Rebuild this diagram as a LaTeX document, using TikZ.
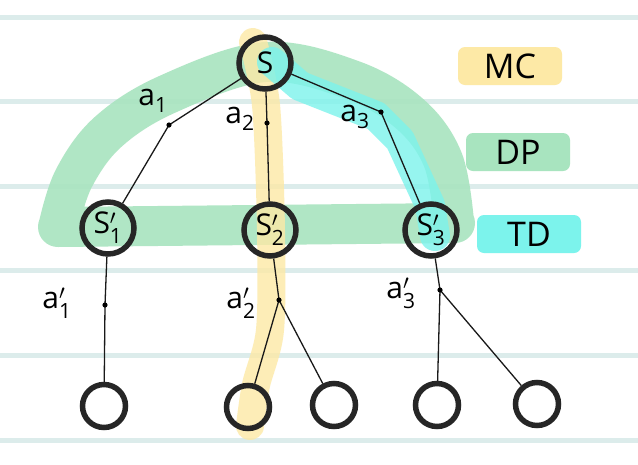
\documentclass[tikz,border=0pt]{standalone}
\usepackage{fontspec}
\setmainfont{Open Sans}
\usepackage{amsmath}
\definecolor{ruled}{HTML}{DCECEB}
\definecolor{dpgreen}{HTML}{A8E4BF}
\definecolor{mcyellow}{HTML}{FDE9A6}
\definecolor{tdcyan}{HTML}{7CF3EC}
\begin{document}
\begin{tikzpicture}[x=1pt,y=-1pt,
  st/.style={circle, draw=black!85, line width=5.5pt, minimum size=52pt, inner sep=0pt, font=\fontsize{30}{32}\selectfont},
  leaf/.style={circle, draw=black!85, line width=5.5pt, minimum size=43pt, inner sep=0pt},
  edge/.style={draw=black!90, line width=1.3pt},
  lab/.style={inner sep=0pt, font=\fontsize{30}{32}\selectfont},
  legend/.style={rounded corners=7pt, minimum width=104pt, minimum height=38pt, inner sep=0pt, font=\fontsize{34}{36}\selectfont},
  band/.style={line cap=round, line join=round},
]
\useasboundingbox (0,0) rectangle (638,464);
\fill[white] (0,0) rectangle (638,464);
% ruled paper
\foreach \yy in {17,101,186,270,355,440}
  \draw[ruled, line width=5pt] (0,\yy) -- (638,\yy);

% highlights
\draw[band, dpgreen, opacity=0.9, line width=40pt]
  plot[smooth, tension=0.6] coordinates {(59,224) (74,178) (108,132) (168,94) (265,62) (352,80) (410,114) (443,160) (454,222)}
  (58,227) -- (455,223);
\draw[band, mcyellow, opacity=0.8, line width=28pt]
  plot[smooth, tension=0.5] coordinates {(253,42) (266,105) (271,230) (270,330) (256,385) (250,426)};
\draw[band, tdcyan, opacity=0.8, line width=30pt]
  (272,62) -- (300,86) -- (376,116) -- (400,140) -- (430,205) -- (435,236);

% nodes
\node[st] (S) at (265,63) {S};
\node[st] (S1) at (108,228) {S$'_{\text{1}}$};
\node[st] (S2) at (270,230) {S$'_{\text{2}}$};
\node[st] (S3) at (431,230) {S$'_{\text{3}}$};
\node[leaf] (B1) at (104,406) {};
\node[leaf] (B2) at (248,407) {};
\node[leaf] (B3) at (334,405) {};
\node[leaf] (B4) at (437,405) {};
\node[leaf] (B5) at (537,404) {};

% action points
\coordinate (d1) at (169,125);
\coordinate (d2) at (267,123);
\coordinate (d3) at (381,112);
\coordinate (e1) at (105,305);
\coordinate (e2) at (279,300);
\coordinate (e3) at (440,290);

\draw[edge] (S) -- (d1) -- (S1);
\draw[edge] (S) -- (d2) -- (S2);
\draw[edge] (S) -- (d3) -- (S3);
\draw[edge] (S1) -- (e1) -- (B1);
\draw[edge] (S2) -- (e2) -- (B2);
\draw[edge] (e2) -- (B3);
\draw[edge] (S3) -- (e3) -- (B4);
\draw[edge] (e3) -- (B5);
\foreach \c in {d1,d2,d3,e1,e2,e3}
  \fill (\c) circle (2.6pt);

% labels
\node[lab] (l1) at (153,101) {a$_{\text{1}}$};
\node[lab] (l2) at (240,119) {a$_{\text{2}}$};
\node[lab] (l3) at (355,117) {a$_{\text{3}}$};
\node[lab] (m1) at (57,303) {a$'_{\text{1}}$};
\node[lab] (m2) at (241,303) {a$'_{\text{2}}$};
\node[lab] (m3) at (401,293) {a$'_{\text{3}}$};

% legend
\node[legend, fill=mcyellow] (MC) at (510,66) {MC};
\node[legend, fill=dpgreen] (DP) at (518,152) {DP};
\node[legend, fill=tdcyan] (TD) at (529,234) {TD};
\end{tikzpicture}
\end{document}
